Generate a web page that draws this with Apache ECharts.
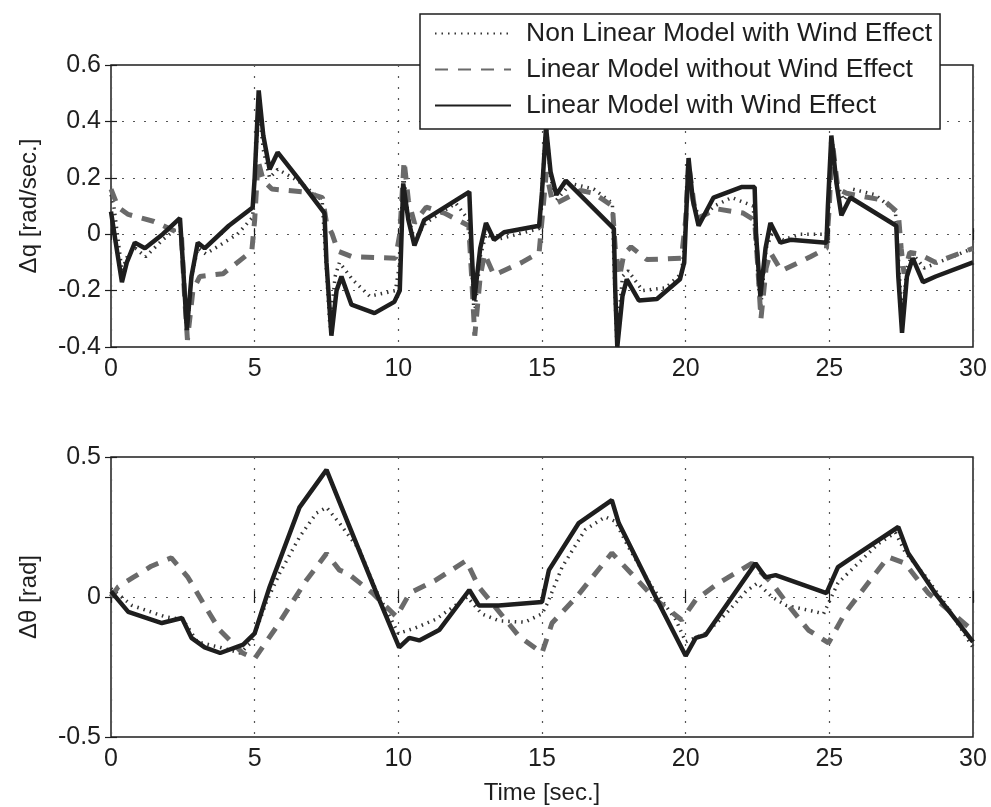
<!DOCTYPE html>
<html lang="en">

<head>
    <meta charset="UTF-8">
    <title>Delta q / Delta theta</title>
    <style>
        html, body { margin: 0; padding: 0; background: #fff; }
    </style>
</head>

<body>
    <div id="main" style="width: 991px; height: 807px"></div>
    <script src="https://cdn.jsdelivr.net/npm/echarts@6/dist/echarts.min.js"></script>
    <script type="text/javascript">
        // series names
        var names = ['Non Linear Model with Wind Effect', 'Linear Model without Wind Effect', 'Linear Model with Wind Effect'];

        // tick labels
        var timeTicks = [0, 5, 10, 15, 20, 25, 30];
        var qTicks = [-0.4, -0.2, 0, 0.2, 0.4, 0.6];
        var thTicks = [-0.5, 0, 0.5];

        // top plot: delta q [rad/sec.], points [time, value]
        var qNonLin = [[0, 0.14], [0.1, 0.1], [0.38, -0.13], [0.6, -0.07], [0.85, -0.05], [1.2, -0.08], [1.8, -0.02], [2.4, 0.03], [2.5, -0.1], [2.64, -0.36], [2.8, -0.15], [3.02, -0.05], [3.3, -0.07], [4.4, 0.0], [4.93, 0.06], [5.0, 0.2], [5.14, 0.45], [5.3, 0.3], [5.52, 0.2], [5.8, 0.23], [6.5, 0.19], [7.35, 0.12], [7.45, -0.05], [7.62, -0.33], [7.8, -0.15], [7.95, -0.1], [8.4, -0.16], [9.0, -0.22], [9.9, -0.2], [10.05, -0.1], [10.17, 0.22], [10.35, 0.06], [10.56, -0.02], [10.95, 0.04], [12.0, 0.11], [12.45, 0.05], [12.55, -0.1], [12.64, -0.3], [12.85, -0.08], [13.05, 0.0], [13.4, -0.02], [14.9, 0.02], [15.0, 0.15], [15.14, 0.4], [15.3, 0.2], [15.5, 0.12], [16.0, 0.18], [16.8, 0.16], [17.45, 0.11], [17.5, -0.1], [17.6, -0.38], [17.8, -0.15], [18.0, -0.13], [18.5, -0.2], [19.3, -0.19], [19.85, -0.14], [19.95, -0.05], [20.1, 0.25], [20.25, 0.12], [20.5, 0.05], [21.0, 0.1], [21.6, 0.13], [22.35, 0.1], [22.45, -0.05], [22.6, -0.27], [22.8, -0.05], [23.0, 0.0], [23.4, -0.02], [24.0, 0.0], [24.9, 0.0], [25.0, 0.12], [25.07, 0.33], [25.25, 0.18], [25.5, 0.12], [25.8, 0.16], [26.6, 0.14], [27.3, 0.08], [27.4, -0.08], [27.53, -0.3], [27.7, -0.12], [27.9, -0.07], [28.3, -0.12], [28.8, -0.1], [30, -0.05]];
        var qLinNoWind = [[0, 0.16], [0.25, 0.095], [0.6, 0.07], [1.5, 0.045], [2.45, 0.0], [2.55, -0.2], [2.66, -0.375], [2.85, -0.2], [3.09, -0.15], [3.9, -0.14], [4.9, -0.06], [5.0, 0.05], [5.12, 0.26], [5.3, 0.19], [5.6, 0.16], [6.7, 0.15], [7.36, 0.13], [7.5, 0.04], [7.7, 0.0], [7.9, -0.06], [8.4, -0.08], [9.9, -0.085], [10.05, 0.0], [10.2, 0.26], [10.35, 0.12], [10.56, 0.04], [10.97, 0.096], [11.6, 0.075], [12.45, 0.03], [12.55, -0.15], [12.66, -0.36], [12.85, -0.15], [13.0, -0.07], [13.33, -0.145], [14.3, -0.1], [14.9, -0.065], [15.0, 0.05], [15.15, 0.22], [15.35, 0.12], [15.5, 0.11], [16.35, 0.155], [16.8, 0.145], [17.45, 0.1], [17.55, -0.05], [17.7, -0.15], [17.85, -0.07], [18.1, -0.045], [18.65, -0.09], [19.85, -0.085], [20.0, 0.05], [20.1, 0.25], [20.3, 0.1], [20.5, 0.06], [21.07, 0.09], [22.0, 0.075], [22.4, 0.05], [22.5, -0.1], [22.62, -0.3], [22.8, -0.12], [22.95, -0.065], [23.33, -0.13], [24.34, -0.08], [24.9, -0.05], [25.0, 0.1], [25.1, 0.33], [25.3, 0.16], [25.6, 0.145], [26.9, 0.12], [27.4, 0.075], [27.5, -0.05], [27.6, -0.14], [27.8, -0.065], [28.1, -0.07], [28.7, -0.1], [30, -0.05]];
        var qLinWind = [[0, 0.08], [0.15, -0.02], [0.38, -0.17], [0.55, -0.1], [0.83, -0.03], [1.18, -0.05], [1.8, 0.0], [2.4, 0.057], [2.5, -0.1], [2.64, -0.34], [2.8, -0.15], [3.02, -0.03], [3.26, -0.05], [4.1, 0.03], [4.93, 0.095], [5.0, 0.2], [5.14, 0.51], [5.3, 0.35], [5.52, 0.23], [5.8, 0.29], [6.5, 0.2], [7.43, 0.075], [7.5, -0.1], [7.67, -0.36], [7.85, -0.2], [8.02, -0.15], [8.37, -0.25], [9.17, -0.28], [9.86, -0.24], [10.05, -0.2], [10.17, 0.18], [10.35, 0.05], [10.56, -0.04], [10.9, 0.05], [12.47, 0.15], [12.55, -0.05], [12.64, -0.235], [12.85, -0.05], [13.05, 0.04], [13.33, -0.02], [13.68, 0.007], [14.9, 0.03], [15.0, 0.15], [15.14, 0.38], [15.3, 0.22], [15.5, 0.14], [15.83, 0.19], [17.5, 0.02], [17.55, -0.2], [17.62, -0.4], [17.8, -0.22], [17.95, -0.16], [18.37, -0.235], [19.0, -0.23], [19.8, -0.16], [19.95, -0.1], [20.1, 0.27], [20.25, 0.12], [20.45, 0.03], [20.97, 0.13], [21.94, 0.167], [22.4, 0.167], [22.45, 0.0], [22.6, -0.22], [22.78, -0.05], [22.95, 0.04], [23.3, -0.03], [23.65, -0.02], [24.9, -0.03], [24.95, 0.1], [25.07, 0.35], [25.25, 0.18], [25.42, 0.067], [25.73, 0.13], [27.33, 0.03], [27.4, -0.15], [27.53, -0.35], [27.7, -0.15], [27.9, -0.085], [28.26, -0.17], [28.7, -0.15], [30, -0.1]];

        // bottom plot: delta theta [rad]
        var thNonLin = [[0, 0.03], [0.73, -0.03], [1.86, -0.07], [2.5, -0.08], [3.0, -0.16], [3.8, -0.18], [4.5, -0.2], [4.9, -0.16], [5.4, -0.02], [5.87, 0.085], [6.56, 0.214], [7.15, 0.3], [7.5, 0.32], [7.95, 0.264], [8.65, 0.168], [9.24, 0.02], [9.7, -0.07], [10.0, -0.13], [10.6, -0.11], [11.3, -0.08], [12.4, 0.0], [12.9, -0.06], [13.5, -0.085], [14.4, -0.09], [15.0, -0.06], [15.2, -0.02], [15.7, 0.107], [16.5, 0.24], [17.2, 0.286], [17.55, 0.27], [18.0, 0.18], [18.8, 0.04], [19.65, -0.08], [20.0, -0.16], [20.7, -0.13], [21.4, -0.06], [22.1, 0.02], [22.5, 0.05], [23.0, 0.0], [23.5, -0.03], [24.4, -0.05], [24.8, -0.06], [25.3, 0.05], [25.8, 0.1], [26.7, 0.19], [27.3, 0.23], [27.64, 0.16], [28.3, 0.08], [29.0, -0.02], [30, -0.18]];
        var thLinNoWind = [[0, 0.0], [0.25, 0.036], [0.77, 0.07], [1.4, 0.11], [2.1, 0.14], [2.68, 0.07], [3.2, -0.02], [3.78, -0.118], [4.58, -0.2], [5.0, -0.22], [5.76, -0.107], [6.8, 0.06], [7.5, 0.155], [7.95, 0.096], [8.23, 0.085], [9.1, 0.014], [9.93, -0.07], [10.4, 0.014], [11.3, 0.06], [12.36, 0.13], [12.8, 0.036], [14.2, -0.14], [15.0, -0.2], [15.35, -0.093], [16.2, 0.0], [17.43, 0.157], [18.1, 0.085], [18.96, -0.01], [19.86, -0.082], [20.35, -0.01], [21.15, 0.05], [22.3, 0.12], [23.0, 0.05], [23.7, -0.046], [24.27, -0.118], [24.97, -0.164], [25.55, -0.057], [26.35, 0.05], [27.05, 0.143], [27.64, 0.12], [28.44, 0.014], [30, -0.12]];
        var thLinWind = [[0, 0.02], [0.6, -0.053], [1.77, -0.093], [2.47, -0.075], [2.8, -0.146], [3.26, -0.18], [3.8, -0.2], [4.6, -0.17], [5.0, -0.13], [5.52, 0.036], [6.56, 0.32], [7.5, 0.454], [7.95, 0.34], [9.24, 0.014], [10.03, -0.18], [10.38, -0.146], [10.73, -0.155], [11.42, -0.118], [12.47, 0.025], [12.8, -0.03], [13.5, -0.03], [15.0, -0.018], [15.24, 0.096], [16.28, 0.264], [17.43, 0.346], [17.67, 0.264], [18.83, 0.025], [20.0, -0.21], [20.35, -0.146], [20.7, -0.135], [22.43, 0.12], [22.78, 0.07], [23.13, 0.078], [24.9, 0.014], [25.3, 0.107], [25.66, 0.132], [27.4, 0.25], [27.74, 0.157], [28.68, 0.014], [30, -0.16]];

        var myChart = echarts.init(document.getElementById('main'));

        var font = '"Liberation Sans", Arial, Helvetica, sans-serif';
        var ink = '#1e1e1e';

        var styles = [
            { color: '#333', width: 3.5, type: [1.5, 5] },
            { color: '#6a6a6a', width: 5, type: [13, 10] },
            { color: ink, width: 4.5, type: 'solid' }
        ];

        function tickFmt(list) {
            return function (v) {
                var r = Math.round(v * 10) / 10;
                return list.indexOf(r) >= 0 ? String(r) : '';
            };
        }

        function xAxisFor(grid, main) {
            return {
                type: 'value', gridIndex: grid, min: 0, max: 30, interval: 5,
                position: main ? 'bottom' : 'top',
                name: (main && grid === 1) ? 'Time [sec.]' : '',
                nameLocation: 'middle', nameGap: 44,
                nameTextStyle: { fontFamily: font, fontSize: 24, color: ink },
                axisLine: { show: false },
                axisTick: { show: true, inside: true, length: 6, lineStyle: { color: ink, width: 1.2 } },
                axisLabel: { show: main, margin: 10, fontFamily: font, fontSize: 25, color: ink, formatter: tickFmt(timeTicks) },
                splitLine: main ? { show: true, lineStyle: { color: '#555', width: 1.2, type: [2, 9] } } : { show: false }
            };
        }

        function yAxisFor(grid, main, lo, hi, step, ticks, label) {
            return {
                type: 'value', gridIndex: grid, min: lo, max: hi, interval: step,
                position: main ? 'left' : 'right',
                name: main ? label : '',
                nameLocation: 'middle', nameGap: 70,
                nameTextStyle: { fontFamily: font, fontSize: 24, color: ink },
                axisLine: { show: false },
                axisTick: { show: true, inside: true, length: 6, lineStyle: { color: ink, width: 1.2 } },
                axisLabel: { show: main, margin: 10, fontFamily: font, fontSize: 25, color: ink, formatter: tickFmt(ticks) },
                splitLine: main ? { show: true, lineStyle: { color: '#555', width: 1.2, type: [2, 9] } } : { show: false }
            };
        }

        function line(idx, data, grid) {
            return {
                name: names[idx],
                type: 'line',
                data: data,
                xAxisIndex: grid * 2,
                yAxisIndex: grid * 2,
                symbol: 'none',
                smooth: false,
                z: 2 + idx,
                lineStyle: styles[idx],
                itemStyle: { color: styles[idx].color }
            };
        }

        option = {
            backgroundColor: '#fff',
            animation: false,
            legend: {
                orient: 'vertical',
                left: 420,
                top: 14,
                data: names,
                backgroundColor: '#fff',
                borderColor: ink,
                borderWidth: 1.5,
                padding: [6, 8, 10, 14],
                itemWidth: 76,
                itemHeight: 26,
                itemGap: 9,
                itemStyle: { opacity: 0 },
                textStyle: { fontFamily: font, fontSize: 26.5, color: ink, padding: [0, 0, 0, 10] },
                z: 10
            },
            grid: [
                { left: 111, top: 65, width: 862, height: 282, show: true, borderColor: ink, borderWidth: 1.5 },
                { left: 111, top: 457, width: 862, height: 280, show: true, borderColor: ink, borderWidth: 1.5 }
            ],
            xAxis: [xAxisFor(0, true), xAxisFor(0, false), xAxisFor(1, true), xAxisFor(1, false)],
            yAxis: [
                yAxisFor(0, true, -0.4, 0.6, 0.2, qTicks, '\u0394q [rad/sec.]'),
                yAxisFor(0, false, -0.4, 0.6, 0.2, qTicks, ''),
                yAxisFor(1, true, -0.5, 0.5, 0.5, thTicks, '\u0394\u03b8 [rad]'),
                yAxisFor(1, false, -0.5, 0.5, 0.5, thTicks, '')
            ],
            series: [
                line(0, qNonLin, 0), line(1, qLinNoWind, 0), line(2, qLinWind, 0),
                line(0, thNonLin, 1), line(1, thLinNoWind, 1), line(2, thLinWind, 1)
            ]
        };
        myChart.setOption(option);
    </script>

</body>

</html>
